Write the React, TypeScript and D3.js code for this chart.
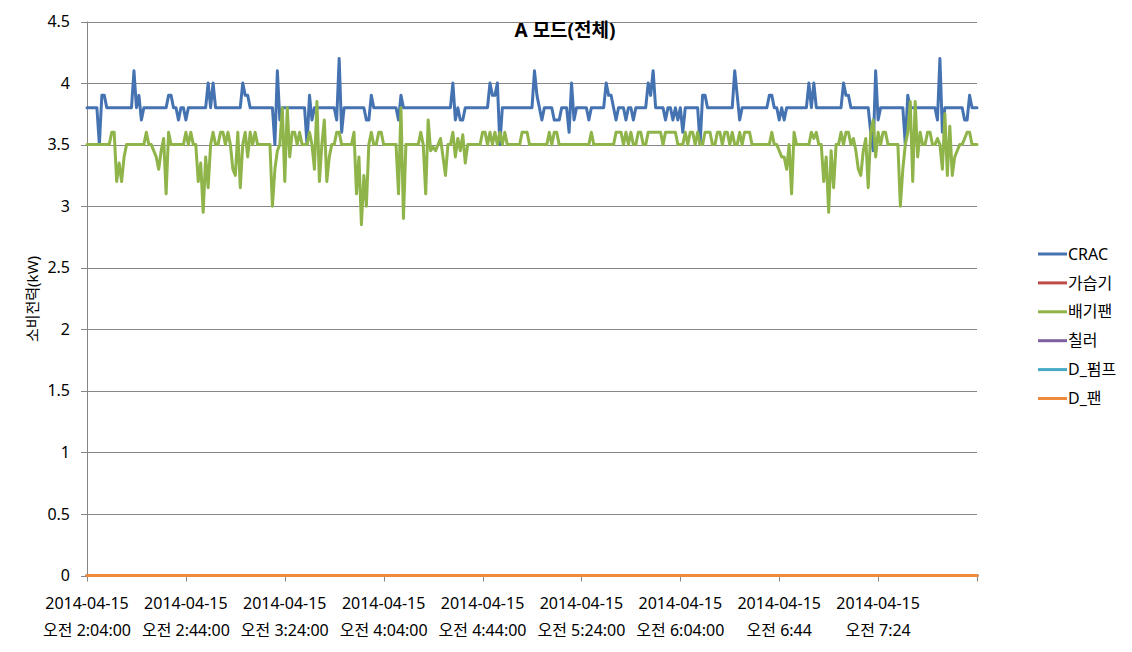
import React from "react";
import * as d3 from "d3";

// ---------- data (1-minute samples, 2014-04-15 02:04 → 08:04) ----------
const seriesNames = ["CRAC", "가습기", "배기팬", "칠러", "D_펌프", "D_팬"];
const seriesColors = ["#4573B2", "#BE4B48", "#8FB449", "#7D60A0", "#46AAC5", "#F08A3C"];

const crac = [
  3.8,3.8,3.8,3.8,3.8,3.5,3.9,3.9,3.8,3.8,
  3.8,3.8,3.8,3.8,3.8,3.8,3.8,3.8,3.8,4.1,
  3.8,3.9,3.7,3.8,3.8,3.8,3.8,3.8,3.8,3.8,
  3.8,3.8,3.8,3.9,3.9,3.8,3.8,3.7,3.8,3.8,
  3.7,3.8,3.8,3.8,3.8,3.8,3.8,3.8,3.8,4.0,
  3.8,4.0,3.8,3.8,3.8,3.8,3.8,3.8,3.8,3.8,
  3.8,3.8,3.8,4.0,3.9,3.9,3.8,3.8,3.8,3.8,
  3.8,3.8,3.8,3.8,3.8,3.8,3.5,4.1,3.7,3.8,
  3.8,3.8,3.8,3.8,3.8,3.8,3.8,3.8,3.8,3.5,
  3.9,3.7,3.8,3.8,3.8,3.8,3.8,3.8,3.8,3.8,
  3.8,3.7,4.2,3.6,3.8,3.8,3.8,3.8,3.8,3.8,
  3.8,3.8,3.8,3.7,3.7,3.9,3.8,3.8,3.8,3.8,
  3.8,3.8,3.8,3.8,3.8,3.8,3.7,3.9,3.8,3.8,
  3.8,3.8,3.8,3.8,3.8,3.8,3.8,3.8,3.8,3.8,
  3.8,3.8,3.8,3.8,3.8,3.8,3.8,3.8,4.0,3.7,
  3.8,3.7,3.7,3.8,3.8,3.8,3.8,3.8,3.8,3.8,
  3.8,3.8,3.8,4.0,3.9,3.9,4.0,3.5,3.8,3.8,
  3.8,3.8,3.8,3.8,3.8,3.8,3.8,3.8,3.8,3.8,
  3.8,4.1,3.9,3.8,3.7,3.8,3.8,3.8,3.8,3.7,
  3.7,3.7,3.8,3.8,3.8,3.6,4.0,3.7,3.8,3.8,
  3.8,3.8,3.8,3.7,3.8,3.8,3.8,3.8,3.8,3.8,
  4.0,3.9,3.9,3.8,3.7,3.8,3.8,3.8,3.7,3.8,
  3.8,3.7,3.8,3.8,3.8,3.8,3.8,4.0,3.9,4.1,
  3.8,3.8,3.8,3.8,3.7,3.8,3.8,3.7,3.8,3.7,
  3.8,3.6,3.8,3.8,3.8,3.8,3.8,3.8,3.5,3.9,
  3.9,3.8,3.8,3.8,3.8,3.8,3.8,3.8,3.8,3.8,
  3.8,3.8,4.1,3.9,3.7,3.8,3.8,3.8,3.8,3.8,
  3.8,3.8,3.8,3.8,3.8,3.8,3.9,3.9,3.8,3.8,
  3.7,3.8,3.7,3.8,3.8,3.8,3.8,3.8,3.8,3.8,
  3.8,3.8,4.0,3.8,4.0,3.8,3.8,3.8,3.8,3.8,
  3.8,3.8,3.8,3.8,3.8,3.8,4.0,3.9,3.9,3.8,
  3.8,3.8,3.8,3.8,3.8,3.8,3.8,3.6,3.45,4.1,
  3.7,3.8,3.8,3.8,3.8,3.8,3.8,3.8,3.8,3.8,
  3.8,3.5,3.9,3.8,3.8,3.8,3.8,3.8,3.8,3.8,
  3.8,3.8,3.8,3.8,3.7,4.2,3.6,3.8,3.8,3.8,
  3.8,3.8,3.8,3.8,3.8,3.7,3.7,3.9,3.8,3.8,
  3.8,
];

const exhaustFan = [
  3.5,3.5,3.5,3.5,3.5,3.5,3.5,3.5,3.5,3.5,
  3.6,3.6,3.2,3.35,3.2,3.4,3.5,3.5,3.5,3.5,
  3.5,3.5,3.5,3.5,3.6,3.5,3.5,3.45,3.4,3.3,
  3.45,3.55,3.1,3.6,3.5,3.5,3.5,3.5,3.5,3.5,
  3.6,3.5,3.6,3.5,3.5,3.2,3.35,2.95,3.4,3.15,
  3.5,3.6,3.5,3.5,3.6,3.6,3.5,3.6,3.5,3.3,
  3.25,3.6,3.15,3.5,3.6,3.4,3.6,3.5,3.6,3.5,
  3.5,3.5,3.5,3.5,3.5,3.0,3.3,3.45,3.5,3.8,
  3.2,3.8,3.4,3.6,3.6,3.5,3.6,3.5,3.5,3.5,
  3.6,3.5,3.3,3.85,3.2,3.5,3.7,3.2,3.4,3.5,
  3.5,3.6,3.6,3.5,3.5,3.5,3.5,3.5,3.6,3.1,
  3.4,2.85,3.25,3.0,3.5,3.6,3.5,3.5,3.6,3.6,
  3.5,3.5,3.5,3.5,3.5,3.5,3.1,3.8,2.9,3.5,
  3.5,3.5,3.5,3.5,3.5,3.6,3.5,3.1,3.7,3.45,
  3.48,3.45,3.5,3.55,3.4,3.25,3.5,3.5,3.6,3.4,
  3.55,3.45,3.58,3.35,3.5,3.5,3.5,3.5,3.5,3.5,
  3.6,3.6,3.5,3.6,3.5,3.6,3.5,3.6,3.5,3.6,
  3.5,3.5,3.5,3.5,3.5,3.5,3.6,3.6,3.6,3.5,
  3.5,3.5,3.5,3.5,3.5,3.5,3.5,3.6,3.5,3.6,
  3.6,3.5,3.5,3.5,3.5,3.5,3.5,3.5,3.5,3.5,
  3.5,3.5,3.5,3.5,3.6,3.5,3.5,3.5,3.5,3.5,
  3.5,3.5,3.5,3.5,3.6,3.6,3.6,3.5,3.6,3.5,
  3.6,3.5,3.5,3.6,3.6,3.5,3.5,3.6,3.6,3.6,
  3.6,3.6,3.6,3.5,3.6,3.6,3.6,3.6,3.6,3.5,
  3.5,3.5,3.6,3.5,3.6,3.6,3.5,3.6,3.5,3.5,
  3.6,3.6,3.6,3.5,3.5,3.6,3.6,3.5,3.6,3.6,
  3.5,3.6,3.5,3.5,3.6,3.5,3.6,3.6,3.6,3.5,
  3.5,3.5,3.5,3.5,3.5,3.5,3.5,3.6,3.5,3.5,
  3.45,3.4,3.4,3.3,3.5,3.1,3.6,3.5,3.5,3.5,
  3.5,3.5,3.5,3.6,3.55,3.6,3.5,3.5,3.2,3.4,
  2.95,3.45,3.15,3.5,3.5,3.6,3.5,3.6,3.6,3.5,
  3.55,3.45,3.3,3.25,3.45,3.55,3.15,3.6,3.7,3.4,
  3.6,3.5,3.6,3.6,3.5,3.5,3.5,3.5,3.5,3.0,
  3.3,3.5,3.6,3.85,3.2,3.85,3.4,3.6,3.5,3.5,
  3.6,3.6,3.5,3.5,3.55,3.5,3.3,3.75,3.25,3.65,
  3.25,3.4,3.45,3.5,3.5,3.55,3.6,3.6,3.5,3.5,
  3.5,
];

// 가습기, 칠러, D_펌프, D_팬 read 0 kW for every sample
const ZERO = 0;
const humidifier = crac.map(() => ZERO);
const chiller = crac.map(() => ZERO);
const dPump = crac.map(() => ZERO);
const dFan = crac.map(() => ZERO);

const xTickIndex = [0, 40, 80, 120, 160, 200, 240, 280, 320, 360];
const xTickDates = ["2014-04-15","2014-04-15","2014-04-15","2014-04-15","2014-04-15","2014-04-15","2014-04-15","2014-04-15","2014-04-15"];
const xTickTimes = ["오전 2:04:00","오전 2:44:00","오전 3:24:00","오전 4:04:00","오전 4:44:00","오전 5:24:00","오전 6:04:00","오전 6:44","오전 7:24"];
const yTicks = [0, 0.5, 1, 1.5, 2, 2.5, 3, 3.5, 4, 4.5];

const title = "A 모드(전체)";
const yTitle = "소비전력(kW)";

const FONT = "'Noto Sans', 'Noto Sans CJK KR', sans-serif";

export default function App() {
  const W = 1132, H = 652;
  const left = 87, right = 977, top = 21.5, bottom = 575.5;
  const x = d3.scaleLinear().domain([0, crac.length - 1]).range([left, right]);
  const y = d3.scaleLinear().domain([0, 4.5]).range([bottom, top]);
  const line = d3.line<number>().x((_, i) => x(i)).y((d) => y(d));
  const allSeries = [crac, humidifier, exhaustFan, chiller, dPump, dFan];
  const legendX = 1038, legendY0 = 254, legendDy = 28.9;

  return (
    <div style={{ position: "fixed", left: 0, top: 0, width: W, height: H, background: "#fff" }}>
      <svg width={W} height={H} style={{ display: "block", fontFamily: FONT }}>
        <rect x={0} y={0} width={W} height={H} fill="#fff" />
        {yTicks.map((t) => (
          <line key={"g" + t} x1={left} x2={right} y1={Math.round(y(t)) + 0.5} y2={Math.round(y(t)) + 0.5} stroke="#868686" strokeWidth={1} />
        ))}
        <line x1={left + 0.5} x2={left + 0.5} y1={top} y2={bottom + 1} stroke="#868686" />
        {yTicks.map((t) => (
          <g key={"yt" + t}>
            <line x1={left - 6} x2={left} y1={Math.round(y(t)) + 0.5} y2={Math.round(y(t)) + 0.5} stroke="#868686" />
            <text x={left - 17} y={y(t)} dy="0.35em" textAnchor="end" fontSize={16} fill="#000">{String(t)}</text>
          </g>
        ))}
        {xTickIndex.map((i) => (
          <line key={"xt" + i} x1={Math.round(x(i)) + 0.5} x2={Math.round(x(i)) + 0.5} y1={bottom} y2={bottom + 6} stroke="#868686" />
        ))}
        {xTickTimes.map((lab, k) => (
          <g key={"xl" + k}>
            <text x={x(xTickIndex[k])} y={603} dy="0.35em" textAnchor="middle" fontSize={16} fill="#000">{xTickDates[k]}</text>
            <text x={x(xTickIndex[k])} y={630} dy="0.35em" textAnchor="middle" fontSize={16} fill="#000">{lab}</text>
          </g>
        ))}
        {allSeries.map((s, k) => (
          <path key={"s" + k} d={line(s) || ""} fill="none" stroke={seriesColors[k]} strokeWidth={3} strokeLinejoin="round" strokeLinecap="round" />
        ))}
        <text x={565} y={30} dy="0.35em" textAnchor="middle" fontSize={19} fontWeight="bold" fill="#000">{title}</text>
        <text transform={`translate(33,299) rotate(-90)`} textAnchor="middle" dy="0.35em" fontSize={15} fill="#000">{yTitle}</text>
        {seriesNames.map((n, k) => (
          <g key={"lg" + k}>
            <line x1={legendX} x2={legendX + 29} y1={legendY0 + k * legendDy} y2={legendY0 + k * legendDy} stroke={seriesColors[k]} strokeWidth={3} />
            <text x={legendX + 30} y={legendY0 + k * legendDy} dy="0.35em" fontSize={16} fill="#000">{n}</text>
          </g>
        ))}
      </svg>
    </div>
  );
}
